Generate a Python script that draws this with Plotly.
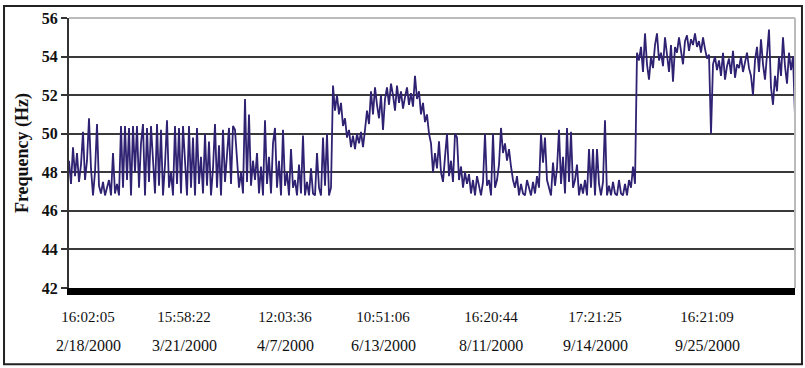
import plotly.graph_objects as go

# Frequency samples (Hz), evenly spaced across the record
freq = [
    48.6, 47.4, 49.3, 47.8, 49.0, 47.5, 48.4, 50.1, 47.6, 48.6,
    50.8, 48.2, 46.8, 48.0, 50.5, 47.3, 46.9, 47.5, 46.8, 47.2,
    47.6, 46.8, 49.0, 46.9, 47.4, 46.8, 50.4, 47.2, 50.4, 47.6,
    50.3, 46.8, 50.4, 48.0, 50.4, 47.2, 49.5, 50.5, 46.8, 50.3,
    47.5, 50.4, 48.5, 46.9, 50.5, 47.3, 50.2, 46.8, 48.4, 50.7,
    47.2, 48.0, 46.8, 50.4, 47.4, 50.3, 46.9, 50.4, 48.6, 46.8,
    50.4, 47.2, 49.8, 46.8, 50.3, 47.4, 48.8, 46.9, 50.0, 47.3,
    49.6, 46.8, 48.2, 50.5, 47.2, 49.4, 46.8, 50.2, 47.5, 48.7,
    50.3, 47.4, 50.4, 50.2, 48.5, 47.2, 48.0, 46.9, 51.8, 47.5,
    51.0, 47.3, 48.6, 47.6, 49.0, 46.9, 48.3, 46.8, 50.7, 47.4,
    48.8, 46.9, 49.5, 50.3, 47.2, 48.6, 46.8, 50.2, 47.3, 48.0,
    46.8, 49.2, 47.2, 47.6, 46.8, 48.4, 46.9, 49.9, 46.8, 47.5,
    46.8, 48.2, 46.9, 46.8, 49.0, 47.2, 46.8, 49.8, 47.3, 50.0,
    46.8, 47.2, 52.5, 51.2, 52.0, 51.0, 51.6, 50.4, 50.8, 49.8,
    50.2, 49.3, 49.9, 49.2, 50.0, 49.5, 50.1, 49.3, 50.2, 51.2,
    50.5, 52.2, 51.0, 52.4, 51.5, 50.8, 52.0, 50.2, 51.8, 52.4,
    51.5, 52.6, 52.0, 51.2, 52.5, 51.6, 52.2, 51.3, 51.9, 52.4,
    51.5, 52.1, 51.4, 53.0, 51.8, 52.2, 51.0, 51.6, 50.6, 51.0,
    50.0, 49.5, 48.0, 49.0, 48.2, 49.6, 48.0, 47.5, 48.8, 50.0,
    47.8, 48.6, 47.5, 50.0, 49.8, 47.6, 48.3, 47.2, 48.0, 47.4,
    47.9, 46.9, 47.6, 46.8, 47.8, 47.2, 46.8, 47.5, 50.0, 47.3,
    47.6, 46.8, 50.0, 47.2, 47.6, 48.4, 50.3, 49.0, 49.5, 48.6,
    49.2, 48.3, 47.6, 47.2, 47.8, 46.8, 47.4, 46.9, 46.8, 47.6,
    47.2, 46.8, 47.5, 46.9, 47.8, 47.2, 50.0, 48.5, 49.8, 47.6,
    47.2, 46.8, 48.5, 47.3, 48.2, 50.2, 47.4, 48.8, 46.9, 50.3,
    47.5, 50.1, 47.2, 47.6, 48.4, 46.8, 47.4, 46.9, 47.6, 46.8,
    49.2, 47.2, 49.2, 46.8, 49.2, 47.4, 46.8, 47.5, 50.7, 46.8,
    47.3, 46.8, 47.5, 46.9, 46.8, 47.6, 46.9, 46.8, 47.4, 46.8,
    47.6, 47.2, 48.3, 47.4, 54.2, 53.8, 54.5, 53.2, 55.2, 53.6,
    52.8, 54.0, 53.4, 54.6, 55.2, 53.8, 54.2, 53.5, 55.0, 54.1,
    53.2, 54.6, 52.7, 54.5, 54.2, 55.0, 54.4, 53.6, 54.8, 55.1,
    54.3, 54.9, 54.6, 55.2, 54.5, 54.8, 54.2, 55.0, 54.4, 53.9,
    54.1, 50.0, 53.6, 54.0, 53.3, 53.8, 53.0, 54.2, 52.8, 53.5,
    53.9, 53.1, 54.3, 52.9, 53.6, 53.4, 54.0, 53.2, 53.7, 54.2,
    53.4, 53.0, 52.0, 53.8, 54.5, 53.2, 54.9, 53.6, 52.8, 54.2,
    55.4, 52.4, 51.5, 53.0, 52.2, 54.0, 53.0, 55.0, 53.5, 52.6,
    54.2, 53.3, 54.0, 50.9,
]
sample = list(range(len(freq)))

# X tick positions (sample index) and labels
tick_pos = [9.5, 57.5, 108, 157, 211, 263, 319]
tick_times = ["16:02:05", "15:58:22", "12:03:36", "10:51:06", "16:20:44", "17:21:25", "16:21:09"]
tick_dates = ["2/18/2000", "3/21/2000", "4/7/2000", "6/13/2000", "8/11/2000", "9/14/2000", "9/25/2000"]
y_ticks = [42, 44, 46, 48, 50, 52, 54, 56]

SERIF = "Liberation Serif"

fig = go.Figure()
fig.add_trace(go.Scatter(
    x=sample, y=freq, mode="lines",
    line=dict(color="#2f2272", width=1.8),
    showlegend=False, hoverinfo="skip",
))

annotations = [
    dict(x=p, y=-0.2125, xref="x", yref="paper", text=d, showarrow=False,
         font=dict(family=SERIF, size=16, color="#111"), xanchor="center", yanchor="middle")
    for p, d in zip(tick_pos, tick_dates)
]

fig.update_layout(
    width=805, height=368,
    margin=dict(l=69, r=10, t=15, b=80),
    paper_bgcolor="white", plot_bgcolor="white",
    xaxis=dict(
        range=[0, len(freq) - 1],
        tickmode="array", tickvals=tick_pos, ticktext=tick_times,
        showgrid=False, zeroline=False,
        showline=True, linecolor="black", linewidth=7,
        ticks="", ticklabelstandoff=9,
        tickfont=dict(family=SERIF, size=15, color="#111"),
    ),
    yaxis=dict(
        range=[42, 56],
        tickmode="array", tickvals=y_ticks,
        showgrid=True, gridcolor="#3a3a3a", gridwidth=2,
        zeroline=False,
        showline=True, linecolor="#333", linewidth=2,
        ticks="outside", ticklen=6, tickcolor="#333", tickwidth=2,
        tickfont=dict(family=SERIF, size=16, color="#111", weight="bold"),
        title=dict(text="<b>Frequency (Hz)</b>", standoff=8,
                   font=dict(family=SERIF, size=18, color="#111")),
    ),
    annotations=annotations,
    shapes=[
        dict(type="line", xref="paper", yref="paper", x0=0, x1=1, y0=1, y1=1,
             line=dict(color="#bbbbbb", width=2), layer="above"),
        dict(type="line", xref="paper", yref="paper", x0=1, x1=1, y0=0, y1=1,
             line=dict(color="#bbbbbb", width=2), layer="above"),
        dict(type="rect", xref="paper", yref="paper",
             x0=-0.0895, x1=1.0096, y0=-0.282, y1=1.044,
             line=dict(color="#222", width=2), fillcolor="rgba(0,0,0,0)", layer="above"),
    ],
)

fig.write_html("out.html")
